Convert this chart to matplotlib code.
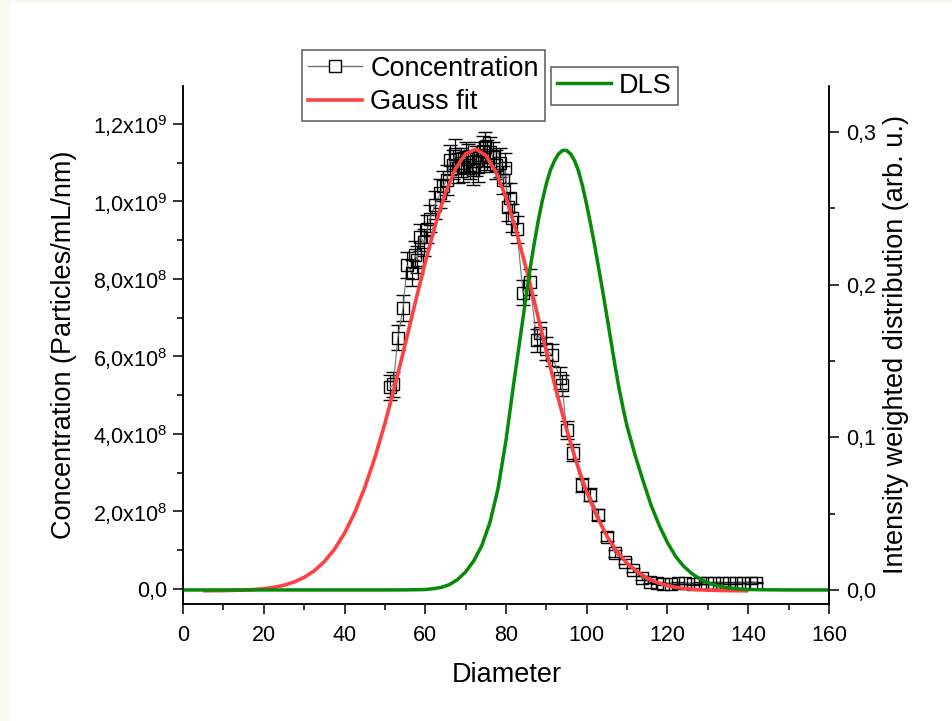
"""Concentration (NTA) with Gauss fit, plus DLS intensity distribution on a twin axis."""
import matplotlib
matplotlib.use("Agg")
import matplotlib.pyplot as plt  # noqa: E402
from matplotlib.lines import Line2D  # noqa: E402
from matplotlib.patches import Rectangle  # noqa: E402
from matplotlib.ticker import MultipleLocator  # noqa: E402
import numpy as np  # noqa: E402

plt.rcParams["font.family"] = ["Liberation Sans", "DejaVu Sans"]
plt.rcParams["mathtext.fontset"] = "custom"
plt.rcParams["mathtext.rm"] = "Liberation Sans"
plt.rcParams["mathtext.it"] = "Liberation Sans:italic"

# ---- data -------------------------------------------------------------------
# concentration, in units of 1e8 particles/mL/nm
conc_x = [51.3, 52.1, 53.2, 54.5, 55.5, 56.7, 57.5, 58.0, 58.7, 59.8,
          60.5, 61.2, 62.4, 63.7, 64.5, 65.3, 66.1, 66.8, 67.4, 68.1,
          68.8, 69.3, 70.0, 70.6, 71.2, 71.8, 72.5, 73.1, 73.6, 74.2,
          74.8, 75.4, 76.0, 76.8, 77.6, 78.5, 79.2, 79.8, 80.5, 81.0,
          81.5, 82.7, 84.2, 85.9, 87.6, 88.4, 89.9, 91.3, 93.4, 93.9,
          95.0, 96.7, 98.7, 100.8, 102.9, 104.9, 107.0, 109.5, 111.5, 113.6,
          115.7, 117.3, 119.0, 120.8, 122.6, 124.4, 126.2, 128.0, 129.8, 131.6,
          133.4, 135.2, 137.0, 138.8, 140.6, 142.0]
conc_y = [5.20, 5.28, 6.48, 7.25, 8.36, 8.15, 8.62, 8.50, 9.08, 8.95,
          9.30, 9.56, 9.91, 10.21, 10.40, 10.55, 11.07, 10.95, 11.22, 10.86,
          11.00, 10.89, 11.15, 11.10, 10.95, 10.80, 11.05, 10.89, 11.15, 11.30,
          11.40, 11.20, 11.27, 11.15, 10.95, 11.00, 10.55, 10.86, 9.86, 10.10,
          9.57, 9.28, 7.64, 7.92, 6.42, 6.60, 6.20, 6.04, 5.44, 5.25,
          4.10, 3.52, 2.68, 2.43, 1.91, 1.35, 0.92, 0.70, 0.49, 0.28,
          0.19, 0.16, 0.12, 0.13, 0.15, 0.14, 0.13, 0.15, 0.14, 0.15,
          0.16, 0.14, 0.15, 0.16, 0.15, 0.16]
conc_err = [0.32, 0.32, 0.32, 0.33, 0.34, 0.34, 0.35, 0.34, 0.35, 0.35,
            0.36, 0.36, 0.37, 0.37, 0.38, 0.38, 0.39, 0.38, 0.39, 0.38,
            0.38, 0.38, 0.39, 0.39, 0.38, 0.38, 0.39, 0.38, 0.39, 0.39,
            0.40, 0.39, 0.39, 0.39, 0.38, 0.38, 0.37, 0.38, 0.36, 0.37,
            0.36, 0.35, 0.32, 0.33, 0.30, 0.30, 0.29, 0.29, 0.28, 0.27,
            0.24, 0.22, 0.18, 0.17, 0.14, 0.11, 0.09, 0.07, 0.05, 0.04,
            0.03, 0.03, 0.02, 0.02, 0.02, 0.02, 0.02, 0.02, 0.02, 0.02,
            0.02, 0.02, 0.02, 0.02, 0.02, 0.02]

# Gauss fit curve, same units
fit_x = [5, 10, 15, 17.5, 20, 22.5, 25, 27.5, 30, 32.5, 35, 37.5, 40, 42.5,
         45, 47.5, 50, 52.5, 55, 57.5, 60, 62.5, 65, 67.5, 70, 72.5, 75,
         77.5, 80, 82.5, 85, 87.5, 90, 92.5, 95, 97.5, 100, 102.5, 105,
         107.5, 110, 112.5, 115, 117.5, 120, 122.5, 125, 127.5, 130, 135, 140]
fit_y = [-0.05, -0.044, -0.031, -0.018, 0.005, 0.04, 0.094, 0.176, 0.296,
         0.466, 0.704, 1.02, 1.436, 1.96, 2.61, 3.38, 4.266, 5.25, 6.30,
         7.38, 8.43, 9.40, 10.22, 10.85, 11.23, 11.35, 11.19, 10.76, 10.10,
         9.25, 8.27, 7.21, 6.13, 5.09, 4.12, 3.25, 2.50, 1.87, 1.36, 0.96,
         0.66, 0.44, 0.274, 0.161, 0.084, 0.033, 0.0, -0.02, -0.033, -0.045,
         -0.05]

# DLS intensity weighted distribution (right axis)
dls_x = [0, 50, 55, 58, 60, 62, 64, 66, 68, 70, 72, 74, 76, 78, 80, 82, 84,
         85, 86, 87, 88, 89, 90, 91, 92, 93, 94, 95, 96, 97, 98, 99, 100,
         101, 102, 103, 104, 105, 106, 107, 108, 109, 110, 112, 114, 116,
         118, 120, 122, 124, 126, 128, 130, 132, 134, 137, 140, 145, 150, 160]
dls_y = [0, 0, 0.00005, 0.00015, 0.0003, 0.0008, 0.0017, 0.0035, 0.0068,
         0.0118, 0.019, 0.029, 0.044, 0.066, 0.098, 0.137, 0.174,
         0.193, 0.211, 0.227, 0.242, 0.255, 0.266, 0.275, 0.281, 0.2855,
         0.2878, 0.2878, 0.2855, 0.281, 0.274, 0.264, 0.252,
         0.239, 0.225, 0.210, 0.195, 0.179, 0.163, 0.147, 0.132, 0.119,
         0.107, 0.088, 0.071, 0.055, 0.042, 0.031, 0.022, 0.0155, 0.0108,
         0.0073, 0.0048, 0.003, 0.0018, 0.0008, 0.0003, 0.0001, 0, 0]

x_ticks = [0, 20, 40, 60, 80, 100, 120, 140, 160]
left_ticks = [0, 2e8, 4e8, 6e8, 8e8, 1e9, 1.2e9]
left_labels = ["0,0", "2,0x10$^{8}$", "4,0x10$^{8}$", "6,0x10$^{8}$",
               "8,0x10$^{8}$", "1,0x10$^{9}$", "1,2x10$^{9}$"]
right_ticks = [0, 0.1, 0.2, 0.3]
right_labels = ["0,0", "0,1", "0,2", "0,3"]

RED = "#ff4040"
GREEN = "#078a07"
W, H = 953, 721


def style_axis(ax, pad):
    ax.tick_params(which="major", direction="out", length=7, width=1.1,
                   labelsize=15.5, pad=pad)
    ax.tick_params(which="minor", direction="out", length=4, width=1.1)
    for side in ("left", "right", "bottom"):
        ax.spines[side].set_linewidth(1.1)
    ax.spines["top"].set_visible(False)


def main():
    fig = plt.figure(figsize=(W / 100, H / 100), dpi=100)
    fig.patches.append(Rectangle((0, 0), 8 / W, 1, transform=fig.transFigure,
                                 color="#f9fbf2", zorder=-5))
    fig.patches.append(Rectangle((0, 1 - 2 / H), 1, 2 / H,
                                 transform=fig.transFigure,
                                 color="#f9fbf2", zorder=-5))

    ax = fig.add_axes([183 / W, 1 - 604 / H, 646 / W, 518 / H])
    ax2 = ax.twinx()

    cy = np.array(conc_y) * 1e8
    ce = np.array(conc_err) * 1e8
    ax.errorbar(conc_x, cy, yerr=ce, fmt="-s", color="0.45", lw=0.8,
                mfc="none", mec="k", mew=1.0, ms=8, ecolor="k",
                elinewidth=0.9, capsize=5, capthick=0.9, zorder=3)
    ax.plot(fit_x, np.array(fit_y) * 1e8, color=RED, lw=2.6, zorder=4,
            solid_capstyle="butt")
    ax2.plot(dls_x, dls_y, color=GREEN, lw=2.5)

    ax.set_xlim(0, 160)
    ax.set_ylim(-3.9e7, 1.298e9)
    ax2.set_ylim(-0.0092, 0.330)

    ax.set_xticks(x_ticks)
    ax.xaxis.set_minor_locator(MultipleLocator(10))
    ax.set_yticks(left_ticks)
    ax.set_yticklabels(left_labels)
    ax.yaxis.set_minor_locator(MultipleLocator(1e8))
    ax2.set_yticks(right_ticks)
    ax2.set_yticklabels(right_labels)
    ax2.yaxis.set_minor_locator(MultipleLocator(0.05))
    style_axis(ax, 4)
    ax.tick_params(axis="x", which="major", pad=8)
    style_axis(ax2, 5)

    ax.set_xlabel("Diameter", fontsize=19.5)
    ax.set_ylabel("Concentration (Particles/mL/nm)", fontsize=19.5)
    ax2.set_ylabel("Intensity weighted distribution (arb. u.)", fontsize=19.5)
    ax.xaxis.set_label_coords(0.5016, -0.112)
    ax.yaxis.set_label_coords(-0.164, 0.5)
    ax2.yaxis.set_label_coords(1.084, 0.5)

    h_conc = Line2D([], [], color="0.45", lw=1.0, marker="s", mfc="white",
                    mec="k", ms=8)
    h_fit = Line2D([], [], color=RED, lw=2.6)
    h_dls = Line2D([], [], color=GREEN, lw=2.5)
    common = dict(fontsize=19.5, frameon=True, fancybox=False, framealpha=1,
                  edgecolor="0.35", borderpad=0.22, handletextpad=0.3,
                  labelspacing=0.26, numpoints=1, borderaxespad=0,
                  bbox_transform=fig.transFigure, loc="upper left")
    leg1 = fig.legend([h_conc, h_fit], ["Concentration", "Gauss fit"],
                      bbox_to_anchor=(302 / W, 1 - 50 / H), handlelength=2.0,
                      **common)
    leg2 = fig.legend([h_dls], ["DLS"], bbox_to_anchor=(551 / W, 1 - 67 / H),
                      handlelength=2.0, **common)
    for leg in (leg1, leg2):
        leg.get_frame().set_linewidth(1.1)

    fig.savefig("out.png", dpi=100)


if __name__ == "__main__":
    main()
